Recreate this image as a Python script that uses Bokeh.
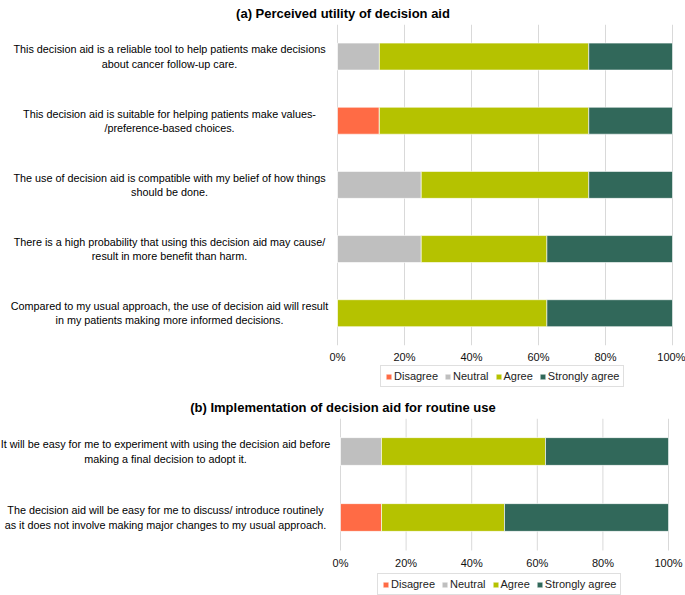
from bokeh.plotting import figure
from bokeh.models import Range1d, Legend, LegendItem, PrintfTickFormatter, FixedTicker, ColumnDataSource
from bokeh.core.properties import value
from bokeh.layouts import column
from bokeh.embed import file_html
from bokeh.resources import INLINE

# ---------------- data ----------------
categories = ["Disagree", "Neutral", "Agree", "Strongly agree"]
colors = ["#FF6B45", "#BFBFBF", "#B5C200", "#31685A"]
ticks = [0, 20, 40, 60, 80, 100]

title_a = "(a) Perceived utility of decision aid"
items_a = [
    "This decision aid is a reliable tool to help patients make decisions\nabout cancer follow-up care.",
    "This decision aid is suitable for helping patients make values-\n/preference-based choices.",
    "The use of decision aid is compatible with my belief of how things\nshould be done.",
    "There is a high probability that using this decision aid may cause/\nresult in more benefit than harm.",
    "Compared to my usual approach, the use of decision aid will result\nin my patients making more informed decisions.",
]
disagree_a = [0, 12.5, 0, 0, 0]
neutral_a = [12.5, 0, 25, 25, 0]
agree_a = [62.5, 62.5, 50, 37.5, 62.5]
strong_a = [25, 25, 25, 37.5, 37.5]

title_b = "(b) Implementation of decision aid for routine use"
items_b = [
    "It will be easy for me to experiment with using the decision aid before\nmaking a final decision to adopt it.",
    "The decision aid will be easy for me to discuss/ introduce routinely\nas it does not involve making major changes to my usual approach.",
]
disagree_b = [0, 12.5]
neutral_b = [12.5, 0]
agree_b = [50, 37.5]
strong_b = [37.5, 50]

FONT = "Liberation Sans"
FIG_W = 685


def make_chart(title, items, dis, neu, agr, stg, zero_px, full_px, top_px, frame_h, row_px,
               label_px, legend_left_px, legend_bottom_gap):
    """zero_px/full_px: x of 0% and 100%; label_px: x of label centres (layout only)."""
    n = len(items)
    scale = (full_px - zero_px) / 100.0           # pixels per percent
    x0 = -zero_px / scale
    x1 = x0 + FIG_W / scale
    y_end = -0.5 + frame_h / row_px

    src = ColumnDataSource(dict(
        y=list(range(n)),
        label=items,
        lx=[(label_px - zero_px) / scale] * n,
        Disagree=dis, Neutral=neu, Agree=agr, **{"Strongly agree": stg},
    ))
    p = figure(
        width=FIG_W, height=top_px + frame_h,
        x_range=Range1d(x0, x1), y_range=Range1d(y_end, -0.5),
        output_backend="svg", toolbar_location=None,
        min_border_left=0, min_border_right=0,
        min_border_top=top_px, min_border_bottom=0,
        title=title,
    )
    p.title.text_font = FONT
    p.title.text_font_size = "13px"
    p.title.text_font_style = "bold"
    p.title.text_color = "#000000"
    p.title.align = "center"
    p.title.standoff = 7
    p.outline_line_color = None
    p.yaxis.visible = False
    p.grid.visible = False

    # gridlines limited to the bar area
    p.segment(x0=ticks, x1=ticks, y0=[-0.5] * len(ticks), y1=[n - 0.5] * len(ticks),
              line_color="#D9D9D9", line_width=1)

    p.xaxis.ticker = FixedTicker(ticks=ticks)
    p.xaxis.formatter = PrintfTickFormatter(format="%d%%")
    p.xaxis.fixed_location = n - 0.5
    p.xaxis.axis_line_color = None
    p.xaxis.major_tick_line_color = None
    p.xaxis.minor_tick_line_color = None
    p.xaxis.major_label_standoff = 0
    p.xaxis.major_label_text_font = FONT
    p.xaxis.major_label_text_font_size = "11px"
    p.xaxis.major_label_text_color = "#111111"

    rs = p.hbar_stack(categories, y="y", height=0.42, color=colors, source=src,
                      line_color="white", line_width=0.6)

    p.text(x="lx", y="y", text="label", source=src, text_align="center", text_baseline="middle",
           text_font=value(FONT), text_font_size="10.8px", text_color="#000000",
           text_line_height=1.2)

    legend = Legend(items=[LegendItem(label=c, renderers=[r]) for c, r in zip(categories, rs)],
                    orientation="horizontal", location=(legend_left_px, legend_bottom_gap),
                    border_line_color="#BFBFBF", border_line_width=1,
                    label_text_font=FONT, label_text_font_size="11px", label_text_color="#222222",
                    glyph_width=7, glyph_height=7, label_height=12, label_standoff=2,
                    spacing=6, padding=4, margin=0)
    p.add_layout(legend)
    return p


pa = make_chart(title_a, items_a, disagree_a, neutral_a, agree_a, strong_a,
                zero_px=337, full_px=672, top_px=22, frame_h=370, row_px=64.5,
                label_px=169, legend_left_px=380, legend_bottom_gap=5)
pb = make_chart(title_b, items_b, disagree_b, neutral_b, agree_b, strong_b,
                zero_px=340, full_px=668, top_px=26, frame_h=177, row_px=66,
                label_px=165, legend_left_px=377, legend_bottom_gap=0)

layout = column(pa, pb, spacing=0)
open("out.html", "w").write(file_html(layout, INLINE))
